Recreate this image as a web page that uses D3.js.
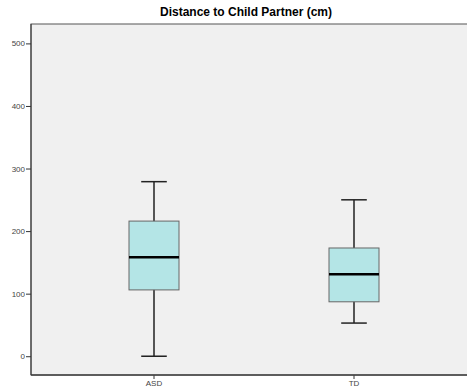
<!DOCTYPE html>
<html>
<head>
<meta charset="utf-8">
<script src="https://cdn.jsdelivr.net/npm/d3@7"></script>
<style>
  body { margin: 0; background: #fff; }
  .axis text { font-family: "Liberation Sans", Arial, sans-serif; font-size: 8px; fill: #444; }
  .axis path, .axis line { stroke: #333; }
</style>
</head>
<body>
<svg class="chart" width="467" height="392"></svg>
<script>
(function () {
  var groups = ["ASD", "TD"];
  var whiskerLow = [0, 53];
  var q1 = [106, 87];
  var median = [158, 131];
  var q3 = [216, 173];
  var whiskerHigh = [279, 250];
  var yTicks = [0, 100, 200, 300, 400, 500];

  var data = groups.map(function (g, i) {
    return { group: g, lo: whiskerLow[i], q1: q1[i], med: median[i], q3: q3[i], hi: whiskerHigh[i] };
  });

  var margin = {top: 24, right: -10, bottom: 17, left: 31};
  var totalWidth = 467, totalHeight = 392;
  var width = totalWidth - margin.left - margin.right;
  var height = totalHeight - margin.top - margin.bottom;

  var svg = d3.select(".chart");

  svg.append("text")
    .attr("x", 246)
    .attr("y", 16)
    .attr("text-anchor", "middle")
    .style("font-family", "'Liberation Sans', Arial, sans-serif")
    .style("font-size", "12px")
    .style("font-weight", "bold")
    .text("Distance to Child Partner (cm)");

  var vis = svg.append("g")
    .attr("transform", "translate(" + margin.left + "," + margin.top + ")");

  vis.append("rect")
    .attr("width", width)
    .attr("height", height)
    .attr("fill", "#f0f0f0")
    .attr("stroke", "#555")
    .attr("stroke-width", 1);

  var xscale = d3.scaleBand()
    .domain(groups)
    .range([0, width])
    .paddingInner(0)
    .paddingOuter(0.115);

  var yscale = d3.scaleLinear()
    .domain([-30, 531])
    .range([height, 0]);

  var yaxis = d3.axisLeft(yscale).tickValues(yTicks).tickSize(5).tickPadding(1);
  vis.append("g")
    .attr("class", "axis")
    .call(yaxis)
    .call(function (g) { g.select(".domain").remove(); });

  var xaxis = d3.axisBottom(xscale).tickSize(4).tickPadding(1);
  vis.append("g")
    .attr("class", "axis")
    .attr("transform", "translate(0," + height + ")")
    .call(xaxis)
    .call(function (g) { g.select(".domain").remove(); });

  vis.append("line")
    .attr("x1", 0).attr("x2", width)
    .attr("y1", height).attr("y2", height)
    .attr("stroke", "#444").attr("stroke-width", 1.5);
  vis.append("line")
    .attr("x1", 0).attr("x2", 0)
    .attr("y1", 0).attr("y2", height)
    .attr("stroke", "#333").attr("stroke-width", 1);

  // half widths of box and whisker caps
  var boxW = xscale.bandwidth() * 0.125;
  var capW = xscale.bandwidth() * 0.064;

  var box = vis.selectAll(".box")
    .data(data)
    .enter().append("g")
    .attr("class", "box")
    .attr("transform", function (d) { return "translate(" + (xscale(d.group) + xscale.bandwidth() / 2) + ",0)"; });

  box.append("line")
    .attr("x1", 0).attr("x2", 0)
    .attr("y1", function (d) { return yscale(d.hi); })
    .attr("y2", function (d) { return yscale(d.lo); })
    .attr("stroke", "#222").attr("stroke-width", 1.5);

  box.append("line")
    .attr("x1", -capW).attr("x2", capW)
    .attr("y1", function (d) { return yscale(d.hi); })
    .attr("y2", function (d) { return yscale(d.hi); })
    .attr("stroke", "#222").attr("stroke-width", 1.5);

  box.append("line")
    .attr("x1", -capW).attr("x2", capW)
    .attr("y1", function (d) { return yscale(d.lo); })
    .attr("y2", function (d) { return yscale(d.lo); })
    .attr("stroke", "#222").attr("stroke-width", 1.5);

  box.append("rect")
    .attr("x", -boxW)
    .attr("width", boxW * 2)
    .attr("y", function (d) { return yscale(d.q3); })
    .attr("height", function (d) { return yscale(d.q1) - yscale(d.q3); })
    .attr("fill", "#b4e5e6")
    .attr("stroke", "#666")
    .attr("stroke-width", 1);

  box.append("line")
    .attr("x1", -boxW).attr("x2", boxW)
    .attr("y1", function (d) { return yscale(d.med); })
    .attr("y2", function (d) { return yscale(d.med); })
    .attr("stroke", "#000").attr("stroke-width", 2.5);
})();
</script>
</body>
</html>
